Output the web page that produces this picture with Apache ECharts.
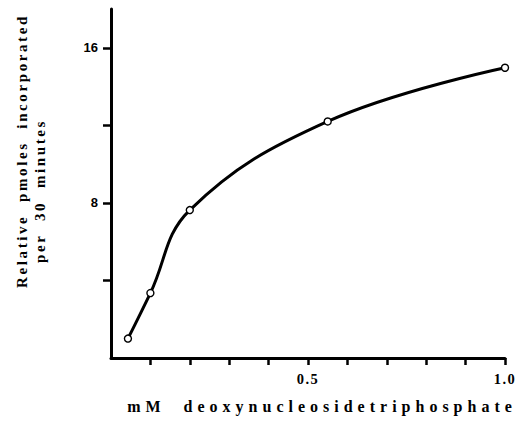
<!DOCTYPE html>
<html>
<head>
<meta charset="utf-8">
<script src="https://cdn.jsdelivr.net/npm/echarts@6/dist/echarts.min.js"></script>
<style>
  html, body { margin: 0; padding: 0; background: #fff; }
  #chart { width: 525px; height: 424px; }
  /* wide letter spacing of the typeset captions */
  #chart text[style*="16px"] { letter-spacing: 5px; }
  #chart text[style*="15px"] { letter-spacing: 2.6px; }
  #chart text[style*="14.5px"] { letter-spacing: 1.5px; }
</style>
</head>
<body>
<div id="chart"></div>
<script>
// concentration of deoxynucleoside triphosphate (mM)
const concentration = [0.043, 0.1, 0.2, 0.55, 1.0];
// relative pmoles incorporated per 30 minutes
const incorporation = [1.0, 3.35, 7.63, 12.2, 14.97];

const xTicks = [0.1, 0.2, 0.3, 0.4, 0.5, 0.6, 0.7, 0.8, 0.9, 1.0];
const xTickLabels = [0.5, 1.0];
const yTicks = [4, 8, 12, 16];
const yTickLabels = [8, 16];

const xTitle = 'mM  deoxynucleosidetriphosphate';
const yTitleLine1 = 'Relative  pmoles  incorporated';
const yTitleLine2 = 'per  30  minutes';

const chart = echarts.init(document.getElementById('chart'), null, { renderer: 'svg' });

const serif = '"Liberation Serif", "DejaVu Serif", serif';
const sans = '"Liberation Sans", Arial, sans-serif';

chart.setOption({
  animation: false,
  backgroundColor: '#fff',
  grid: { left: 111, right: 20, top: 9, bottom: 66, containLabel: false },
  xAxis: {
    type: 'value',
    min: 0,
    max: 1.0,
    splitLine: { show: false },
    axisLine: { show: true, onZero: false, lineStyle: { color: '#000', width: 3 } },
    axisTick: {
      show: true, inside: false, length: 7, customValues: xTicks,
      lineStyle: { color: '#000', width: 2.5 }
    },
    axisLabel: {
      show: true, customValues: xTickLabels, margin: 13,
      color: '#000', fontFamily: serif, fontWeight: 'bold', fontSize: 14.5,
      formatter: v => v.toFixed(1)
    }
  },
  yAxis: {
    type: 'value',
    min: 0,
    max: 18,
    splitLine: { show: false },
    axisLine: { show: true, onZero: false, lineStyle: { color: '#000', width: 3 } },
    axisTick: {
      show: true, inside: false, length: 8, customValues: yTicks,
      lineStyle: { color: '#000', width: 2.5 }
    },
    axisLabel: {
      show: true, customValues: yTickLabels, margin: 13,
      color: '#000', fontFamily: sans, fontWeight: 'bold', fontSize: 13
    }
  },
  graphic: [
    {
      type: 'text', x: 322, y: 406,
      style: {
        text: xTitle, fill: '#000', align: 'center', verticalAlign: 'middle',
        font: 'bold 16px ' + serif
      }
    },
    {
      type: 'text', x: 22, y: 151, rotation: Math.PI / 2,
      style: {
        text: yTitleLine1, fill: '#000', align: 'center', verticalAlign: 'middle',
        font: 'bold 15px ' + serif
      }
    },
    {
      type: 'text', x: 40, y: 191, rotation: Math.PI / 2,
      style: {
        text: yTitleLine2, fill: '#000', align: 'center', verticalAlign: 'middle',
        font: 'bold 15px ' + serif
      }
    }
  ],
  series: [{
    type: 'line',
    data: concentration.map((c, i) => [c, incorporation[i]]),
    smooth: 0.4,
    symbol: 'circle',
    symbolSize: 7,
    itemStyle: { color: '#fff', borderColor: '#000', borderWidth: 1.4 },
    lineStyle: { color: '#000', width: 3 },
    z: 3
  }]
});
</script>
</body>
</html>
